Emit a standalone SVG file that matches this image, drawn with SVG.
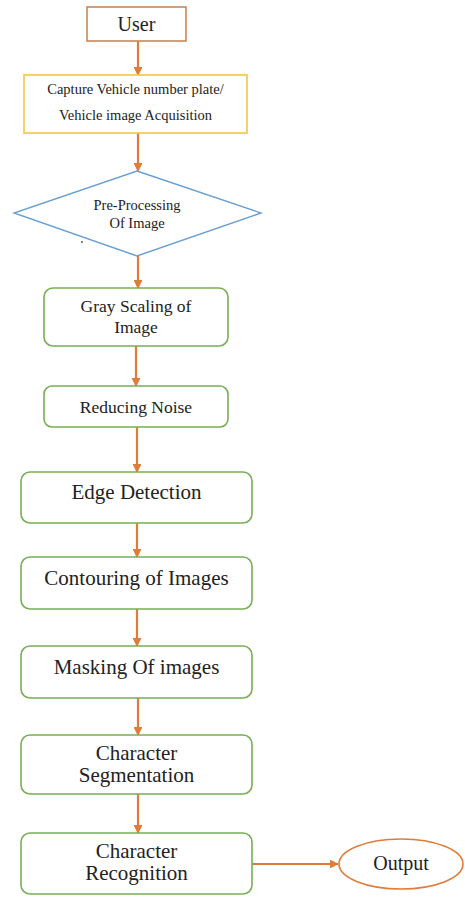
<svg xmlns="http://www.w3.org/2000/svg" width="465" height="897" viewBox="0 0 465 897">
  <style>
    text { font-family: "Liberation Serif", "Times New Roman", serif; fill: #222; text-anchor: middle; }
    .step { fill: #fff; stroke: #78AE55; stroke-width: 1.6; }
    .big { font-size: 21px; }
    .mid { font-size: 17.5px; }
    .small { font-size: 14.5px; }
    .edge { stroke: #E07B39; stroke-width: 2.2; fill: none; marker-end: url(#head); }
  </style>
  <defs>
    <marker id="head" viewBox="0 0 10 10" refX="9" refY="5" markerWidth="4" markerHeight="4" orient="auto" markerUnits="strokeWidth">
      <path d="M0,0 L10,5 L0,10 z" fill="#E07B39"/>
    </marker>
  </defs>
  <rect width="465" height="897" fill="#fff"/>

  <g id="connectors">
    <line class="edge" x1="138" y1="41" x2="138" y2="75"/>
    <line class="edge" x1="138" y1="133" x2="138" y2="171"/>
    <line class="edge" x1="138" y1="256" x2="138" y2="288"/>
    <line class="edge" x1="136" y1="346" x2="136" y2="386"/>
    <line class="edge" x1="137" y1="427" x2="137" y2="472"/>
    <line class="edge" x1="137" y1="523" x2="137" y2="557"/>
    <line class="edge" x1="137" y1="609" x2="137" y2="646"/>
    <line class="edge" x1="138" y1="698" x2="138" y2="735"/>
    <line class="edge" x1="138" y1="794" x2="138" y2="833"/>
    <line class="edge" x1="252" y1="864" x2="338" y2="864"/>
  </g>

  <g id="user">
    <rect x="87" y="7" width="99" height="34" fill="#fff" stroke="#C8875A" stroke-width="1.6"/>
    <text x="136.5" y="31" font-size="20">User</text>
  </g>

  <g id="capture">
    <rect x="24" y="75" width="223" height="58" fill="#fff" stroke="#F5C542" stroke-width="1.6"/>
    <text class="small" x="135.5" y="94">Capture Vehicle number plate/</text>
    <text class="small" x="135.5" y="120">Vehicle image Acquisition</text>
  </g>

  <g id="preprocess">
    <polygon points="137,171 261,213 137,256 14,213" fill="#fff" stroke="#6A9FD4" stroke-width="1.4"/>
    <text class="small" x="137" y="210">Pre-Processing</text>
    <text class="small" x="137" y="228">Of Image</text>
    <circle cx="82" cy="242" r="0.9" fill="#444"/>
  </g>

  <g id="grayscale">
    <rect class="step" x="44" y="288" width="184" height="58" rx="9"/>
    <text class="mid" x="136" y="312">Gray Scaling of</text>
    <text class="mid" x="136" y="333">Image</text>
  </g>

  <g id="noise">
    <rect class="step" x="44" y="386" width="184" height="41" rx="8"/>
    <text class="mid" x="136" y="413">Reducing Noise</text>
  </g>

  <g id="edges">
    <rect class="step" x="21" y="472" width="231" height="51" rx="9"/>
    <text class="big" x="136.5" y="499">Edge Detection</text>
  </g>

  <g id="contour">
    <rect class="step" x="21" y="557" width="231" height="52" rx="9"/>
    <text class="big" x="136.5" y="585">Contouring of Images</text>
  </g>

  <g id="masking">
    <rect class="step" x="21" y="646" width="231" height="52" rx="9"/>
    <text class="big" x="136.5" y="674">Masking Of images</text>
  </g>

  <g id="segmentation">
    <rect class="step" x="21" y="735" width="231" height="59" rx="9"/>
    <text class="big" x="136.5" y="760">Character</text>
    <text class="big" x="136.5" y="782">Segmentation</text>
  </g>

  <g id="recognition">
    <rect class="step" x="21" y="833" width="231" height="61" rx="9"/>
    <text class="big" x="136.5" y="858">Character</text>
    <text class="big" x="136.5" y="880">Recognition</text>
  </g>

  <g id="output">
    <ellipse cx="401" cy="864" rx="62" ry="25" fill="#fff" stroke="#E07B39" stroke-width="1.6"/>
    <text x="401" y="870" font-size="20">Output</text>
  </g>
</svg>
